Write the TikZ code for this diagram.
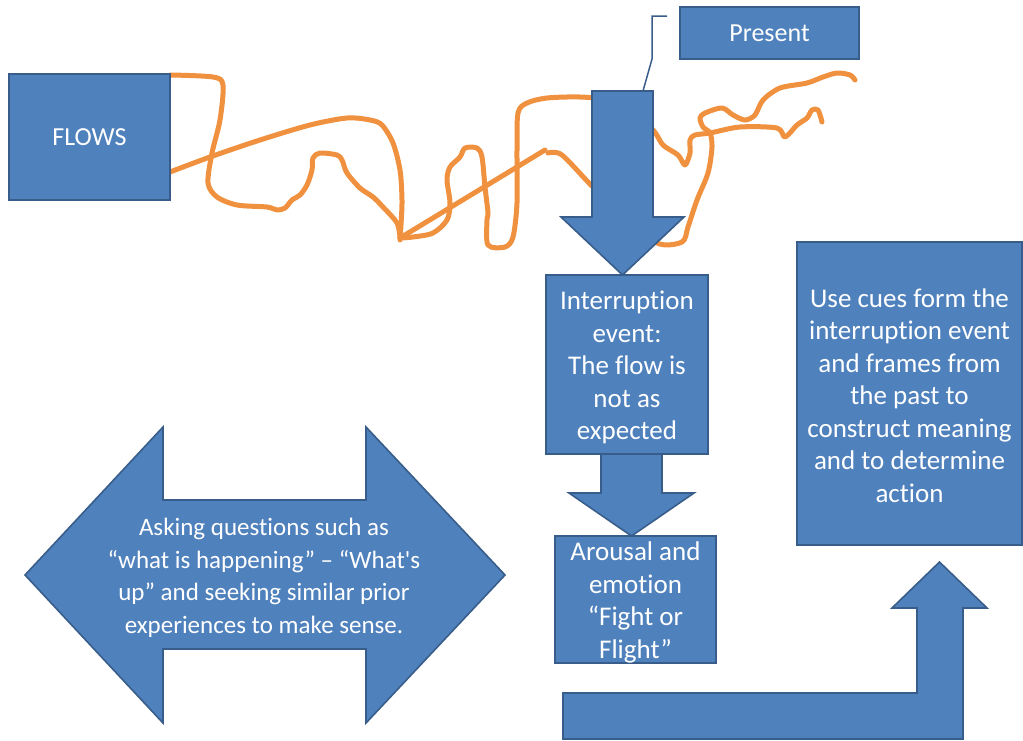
\documentclass[tikz,border=0pt]{standalone}
\usepackage{fontspec}
\setmainfont{Carlito}[Ligatures={TeX,NoCommon}]
\definecolor{boxfill}{HTML}{4F81BD}
\definecolor{boxline}{HTML}{385D8A}
\definecolor{squiggle}{HTML}{F0913F}
\begin{document}
\begin{tikzpicture}[x=1pt,y=-1pt,
  bluefill/.style={fill=boxfill,draw=boxline,line width=1.6pt,line join=miter},
  box/.style={bluefill,rectangle,inner sep=0pt,align=center,text=white,
    font=\fontsize{26}{32.5}\selectfont},
  boxtext/.style={text=white,align=center,inner sep=0pt,
    font=\fontsize{27}{32.5}\selectfont},
  arrowtext/.style={text=white,align=center,inner sep=0pt,
    font=\fontsize{25}{32.5}\selectfont},
  orangepen/.style={draw=squiggle,line width=5pt,line cap=round,line join=round},
  callout/.style={draw=boxline,line width=1.5pt}]
\useasboundingbox (0,0) rectangle (1023,740);

% freehand flow line
\draw[orangepen] plot[smooth,tension=0.5] coordinates {
  (170,75) (213,77) (223,85) (220,120) (212,153) (208,183) (217,197)
  (237,205) (267,207) (277,210) (285,208) (292,200) (300,195) (307,185)
  (312,170) (313,158) (320,153) (337,155) (342,160) (347,173) (360,188)
  (373,197) (383,207) (397,223) (400,238)};
\draw[orangepen] plot[smooth,tension=0.5] coordinates {
  (170,172) (210,157) (260,140) (310,125) (347,118) (370,120) (382,125)
  (393,143) (400,170) (402,200) (401,225) (400,240)};
\draw[orangepen] (400,238) -- (545,150);
\draw[orangepen] plot[smooth,tension=0.5] coordinates {
  (548,153) (562,155) (593,187) (625,215) (657,243) (682,242) (688,227)
  (697,200) (708,173) (712,147) (710,133) (703,127) (700,118) (705,113)
  (722,108) (733,115) (745,120) (755,115) (763,100) (780,88) (807,83)
  (823,77) (837,73) (850,75) (855,80)};
\draw[orangepen] plot[smooth,tension=0.5] coordinates {
  (400,238) (413,237) (433,233) (447,220) (450,203) (447,180) (450,167)
  (460,157) (465,148) (477,148) (482,157) (485,187) (488,213) (487,220)
  (488,245) (505,247) (513,237) (517,203) (517,150) (518,113) (527,103)
  (547,98) (580,97) (605,100) (630,112) (653,130) (663,145) (678,155)
  (685,165) (690,153) (690,140) (695,135) (710,133) (740,127) (777,128)
  (785,137) (797,125) (807,118) (812,110) (818,110) (822,122)};

% boxes
\node[box,minimum width=161,minimum height=126] (flows) at (89.5,137) {FLOWS};
\node[box,minimum width=179,minimum height=52] (present) at (769.5,33) {Present};
\node[box,minimum width=162,minimum height=179] (interrupt) at (627,364.5) {};
\node[boxtext] at ([yshift=-3pt]interrupt.center)
  {Interruption\\event:\\The flow is\\not as\\expected};
\node[box,minimum width=161,minimum height=127] (arousal) at (635.5,599.5) {};
\node[boxtext] at ([yshift=-3pt]arousal.center)
  {Arousal and\\emotion\\“Fight or\\Flight”};
\node[box,minimum width=225,minimum height=303] (cues) at (909.5,393.5) {};
\node[boxtext] at ([yshift=-2pt]cues.center)
  {Use cues form the\\interruption event\\and frames from\\the past to\\construct meaning\\and to determine\\action};

% callout from the present label to the arrow
\coordinate (calloutend) at (667,16);
\draw[callout] (calloutend) -- (652,16) -- (652,59) -- (643,91);

% block arrows
\path[bluefill] (592,91) -- (653,91) -- (653,217) -- (684,217) -- (622.5,275)
  -- (561,217) -- (592,217) -- cycle;
\path[bluefill] (601,454) -- (662,454) -- (662,493) -- (694,493) -- (631.5,536)
  -- (569,493) -- (601,493) -- cycle;
\path[bluefill] (563,693) -- (917,693) -- (917,608) -- (892,608) -- (939.5,562)
  -- (987,608) -- (963,608) -- (963,739) -- (563,739) -- cycle;
\path[bluefill] (25,575) -- (163,427) -- (163,500) -- (366,500) -- (366,427)
  -- (505,575) -- (366,723) -- (366,649) -- (163,649) -- (163,723) -- cycle;
\node[arrowtext] (asking) at (264,578)
  {Asking questions such as\\“what is happening” – “What\textquotesingle s\\up” and seeking similar prior\\experiences to make sense.};
\end{tikzpicture}
\end{document}
